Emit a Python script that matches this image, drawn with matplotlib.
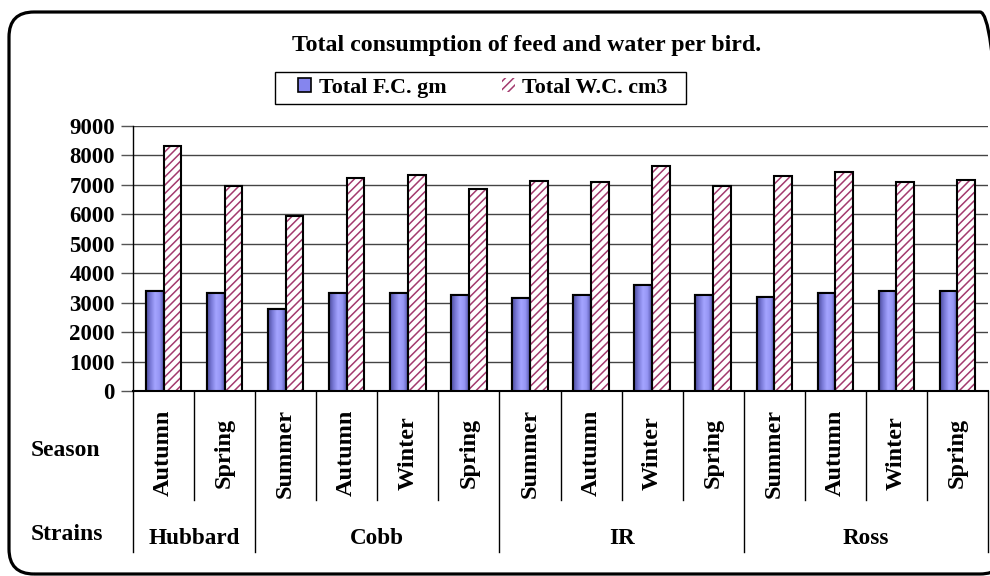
import matplotlib
matplotlib.use("Agg")
import matplotlib.pyplot as plt
import numpy as np
from matplotlib.patches import Patch, Rectangle, FancyBboxPatch
from matplotlib.colors import LinearSegmentedColormap

plt.rcParams['font.family'] = ['Liberation Serif', 'DejaVu Serif']
plt.rcParams['font.weight'] = 'bold'
plt.rcParams['hatch.linewidth'] = 1.1

strains = ['Hubbard', 'Cobb', 'IR', 'Ross']
strain_sizes = [2, 4, 4, 4]
seasons = ['Autumn', 'Spring', 'Summer', 'Autumn', 'Winter', 'Spring', 'Summer',
           'Autumn', 'Winter', 'Spring', 'Summer', 'Autumn', 'Winter', 'Spring']
feed = [3390, 3320, 2775, 3320, 3340, 3250, 3170, 3250, 3590, 3250, 3180, 3320, 3390, 3390]
water = [8330, 6960, 5955, 7245, 7340, 6865, 7135, 7110, 7650, 6960, 7310, 7450, 7110, 7180]
yticks = [0, 1000, 2000, 3000, 4000, 5000, 6000, 7000, 8000, 9000]

W, H = 990, 576
fig = plt.figure(figsize=(W / 100, H / 100), dpi=100)
fig.patch.set_facecolor('white')
ax = fig.add_axes([133 / W, 1 - 391 / H, 855 / W, 265 / H])

x = np.arange(len(seasons))
bw = 0.29
blue = LinearSegmentedColormap.from_list('fc', ['#4c4c9c', '#7a7ad8', '#a4a4ff', '#9696f4', '#5858b0'])
grad = np.linspace(0, 1, 64).reshape(1, -1)

fc_bars = ax.bar(x - bw / 2, feed, bw, color='#9999ff', edgecolor='black', linewidth=1.5, zorder=3)
for b in fc_bars:
    im = ax.imshow(grad, cmap=blue, aspect='auto', zorder=3.1,
                   extent=[b.get_x(), b.get_x() + b.get_width(), 0, b.get_height()])
    im.set_clip_path(b)
    ax.add_patch(Rectangle((b.get_x(), 0), b.get_width(), b.get_height(), fill=False,
                           edgecolor='black', linewidth=1.5, zorder=3.2))

ax.bar(x + bw / 2, water, bw, color='white', edgecolor='#a33a6e', linewidth=0, hatch='////', zorder=3)
ax.bar(x + bw / 2, water, bw, fill=False, edgecolor='black', linewidth=1.5, zorder=3.2)

ax.set_xlim(-0.5, len(seasons) - 0.5)
ax.set_ylim(0, 9000)
ax.set_yticks(yticks)
ax.set_yticklabels([str(v) for v in yticks], fontsize=16.5, fontweight='bold')
ax.tick_params(axis='y', length=9, width=1, color='#555555', pad=4)
ax.set_xticks([])
ax.yaxis.grid(True, color='#444444', linewidth=1)
ax.set_axisbelow(True)
for s in ['top', 'right']:
    ax.spines[s].set_visible(False)
ax.spines['left'].set_linewidth(1)
ax.spines['bottom'].set_linewidth(1.5)

# category table below the axis
tr = ax.get_xaxis_transform()
bounds = np.cumsum([0] + strain_sizes) - 0.5
for k in range(len(seasons) + 1):
    xb = k - 0.5
    y1 = -0.6075 if xb in bounds else -0.411
    ax.plot([xb, xb], [0, y1], color='black', lw=1, transform=tr, clip_on=False)
for i, s in enumerate(seasons):
    ax.text(i, -0.234, s, rotation=90, ha='center', va='center', fontsize=17.5,
            fontweight='bold', transform=tr, clip_on=False)
for j, name in enumerate(strains):
    cx = (bounds[j] + bounds[j + 1]) / 2
    ax.text(cx, -0.555, name, ha='center', va='center', fontsize=16.7,
            fontweight='bold', transform=tr, clip_on=False)

fig.text(31 / W, 1 - 450 / H, 'Season', ha='left', va='center', fontsize=17, fontweight='bold')
fig.text(31 / W, 1 - 535 / H, 'Strains', ha='left', va='center', fontsize=17, fontweight='bold')

fig.text(527 / W, 1 - 45 / H, 'Total consumption of feed and water per bird.',
         ha='center', va='center', fontsize=17.2, fontweight='bold')

# legend
fig.patches.append(Rectangle((275 / W, 1 - 104 / H), 411 / W, 32 / H, transform=fig.transFigure,
                             fill=False, edgecolor='black', linewidth=1))
handles = [Patch(facecolor='#8585ee', edgecolor='black', linewidth=1.2),
           Patch(facecolor='white', edgecolor='#a33a6e', hatch='////', linewidth=0)]
fig.legend(handles, ['Total F.C. gm', 'Total W.C. cm3'], loc='center', ncol=2,
           bbox_to_anchor=(483 / W, 1 - 88 / H), frameon=False,
           handlelength=0.6, handleheight=0.6, handletextpad=0.35, columnspacing=2.5,
           prop={'weight': 'bold', 'size': 15.8})

# outer rounded frame
fig.patches.append(FancyBboxPatch((0.09, 0.02), 9.96, 5.62, boxstyle='round,pad=0,rounding_size=0.25',
                                  transform=fig.dpi_scale_trans, fill=False, edgecolor='black',
                                  linewidth=2.3))

fig.savefig('out.png', dpi=100, facecolor='white')
